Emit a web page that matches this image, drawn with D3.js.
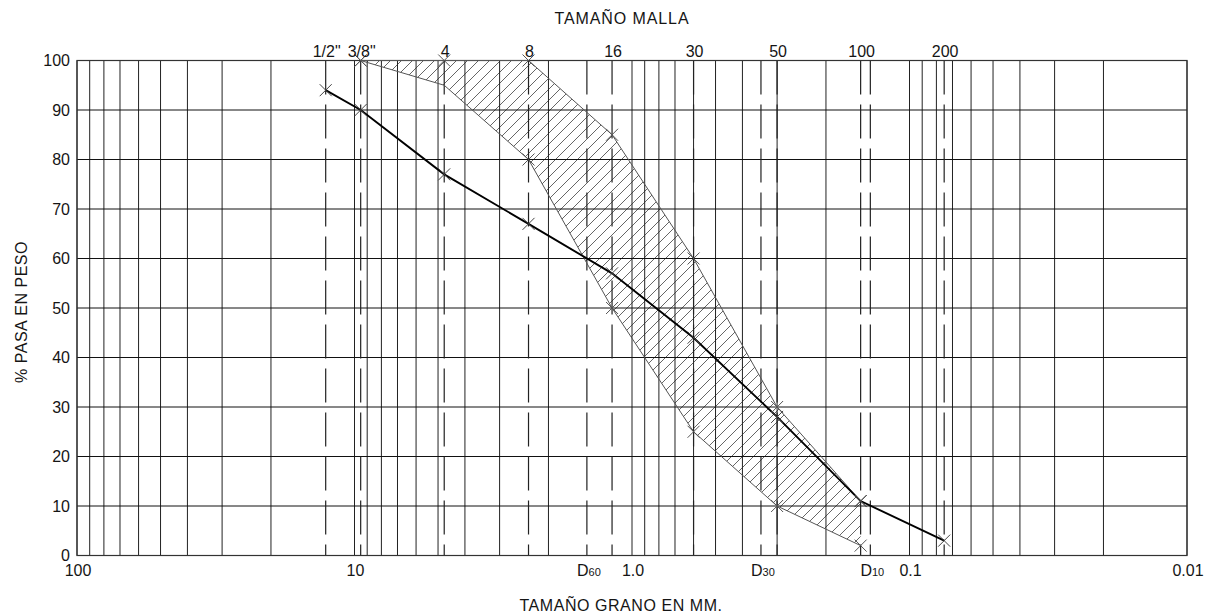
<!DOCTYPE html>
<html>
<head>
<meta charset="utf-8">
<script src="https://cdn.jsdelivr.net/npm/d3@7/dist/d3.min.js"></script>
<style>
  html, body { margin: 0; padding: 0; background: #fff; }
  svg { display: block; font-family: "Liberation Sans", Arial, sans-serif; }
</style>
</head>
<body>
<svg id="chart" width="1221" height="616"></svg>
<script>
// ---- data ----
const sieveLabels = ["1/2\"", "3/8\"", "4", "8", "16", "30", "50", "100", "200"];
const sieveSizes  = [12.7, 9.5, 4.75, 2.36, 1.18, 0.6, 0.3, 0.15, 0.075];
const passing     = [94, 90, 77, 67, 57, 44, 28, 11, 3];

const bandSizes = [9.5, 4.75, 2.36, 1.18, 0.6, 0.3, 0.15];
const bandUpper = [100, 100, 100, 85, 60, 30, 11];
const bandLower = [100, 95, 80, 50, 25, 10, 2];

const dLabels = ["60", "30", "10"];
const dSizes  = [1.454, 0.343, 0.1384];

const xTickLabels = ["100", "10", "1.0", "0.1", "0.01"];
const xTickValues = [100, 10, 1, 0.1, 0.01];
const yTickValues = [0, 10, 20, 30, 40, 50, 60, 70, 80, 90, 100];

(function () {
// ---- layout ----
const svg = d3.select("#chart");
const pL = 77, pR = 1187, pT = 60.5, pB = 555.5;
const x = d3.scaleLog().domain([100, 0.01]).range([pL, pR]);
const y = d3.scaleLinear().domain([0, 100]).range([pB, pT]);

// hatch pattern
const defs = svg.append("defs");
const pat = defs.append("pattern")
  .attr("id", "hatch").attr("patternUnits", "userSpaceOnUse")
  .attr("width", 11).attr("height", 11);
pat.append("path")
  .attr("d", "M0,11 L11,0 M-2,2 L2,-2 M9,13 L13,9")
  .attr("stroke", "#555").attr("stroke-width", 0.9);

// band polygon
const bandPts = bandSizes.map((s, i) => [x(s), y(bandUpper[i])])
  .concat(bandSizes.map((s, i) => [x(s), y(bandLower[i])]).reverse());
svg.append("path")
  .attr("d", "M" + bandPts.map(p => p.join(",")).join("L") + "Z")
  .attr("fill", "url(#hatch)");

// grid
const g = svg.append("g");
x.ticks().forEach(v => {
  g.append("line").attr("x1", x(v)).attr("x2", x(v))
    .attr("y1", pT).attr("y2", pB)
    .attr("stroke", "#222").attr("stroke-width", 1);
});
yTickValues.forEach(v => {
  g.append("line").attr("x1", pL).attr("x2", pR)
    .attr("y1", y(v)).attr("y2", y(v))
    .attr("stroke", "#111").attr("stroke-width", 1);
});

// dashed sieve & D lines
sieveSizes.concat(dSizes).forEach(s => {
  g.append("line").attr("x1", x(s)).attr("x2", x(s))
    .attr("y1", pT).attr("y2", pB)
    .attr("stroke", "#222").attr("stroke-width", 1.2)
    .attr("stroke-dasharray", "34,10");
});

// border
svg.append("rect").attr("x", pL).attr("y", pT)
  .attr("width", pR - pL).attr("height", pB - pT)
  .attr("fill", "none").attr("stroke", "#333").attr("stroke-width", 1.2);

// band outline
const lineGen = d3.line().x(d => x(d[0])).y(d => y(d[1]));
const upperData = bandSizes.map((s, i) => [s, bandUpper[i]]);
const lowerData = bandSizes.map((s, i) => [s, bandLower[i]]);
[upperData, lowerData].forEach(data => {
  svg.append("path").attr("d", lineGen(data))
    .attr("fill", "none").attr("stroke", "#555").attr("stroke-width", 1);
});

// main curve
const mainData = sieveSizes.map((s, i) => [s, passing[i]]);
svg.append("path").attr("d", lineGen(mainData))
  .attr("fill", "none").attr("stroke", "#000").attr("stroke-width", 1.9);

// markers
function marker(px, py, col) {
  const r = 6;
  svg.append("path")
    .attr("d", `M${px - r},${py - r}L${px + r},${py + r}M${px - r},${py + r}L${px + r},${py - r}`)
    .attr("stroke", col).attr("stroke-width", 1).attr("fill", "none");
}
upperData.forEach(d => marker(x(d[0]), y(d[1]), "#555"));
lowerData.forEach((d, i) => { if (i !== 1) marker(x(d[0]), y(d[1]), "#555"); });
mainData.forEach(d => marker(x(d[0]), y(d[1]), "#444"));

// axes text
const fs = 16;
const txt = (xx, yy, s, anchor) => svg.append("text").attr("x", xx).attr("y", yy)
  .attr("text-anchor", anchor || "middle").attr("font-size", fs).attr("fill", "#151515").text(s);

txt(622, 24, "TAMAÑO MALLA").attr("letter-spacing", 0.9);

sieveLabels.forEach((t, i) => txt(x(sieveSizes[i]) + 1, 57, t));

yTickValues.forEach(v => txt(70, y(v), v, "end").attr("dominant-baseline", "central"));

xTickValues.forEach((v, i) => txt(x(v) + 1, 576, xTickLabels[i]));

dSizes.forEach((s, i) => {
  const t = txt(x(s) + 2, 576, "");
  t.append("tspan").text("D");
  t.append("tspan").attr("font-size", 11).text(dLabels[i]);
});

txt(621, 611, "TAMAÑO GRANO EN MM.").attr("letter-spacing", 0.55);

svg.append("text")
  .attr("transform", "translate(27,312) rotate(-90)")
  .attr("text-anchor", "middle").attr("font-size", fs).attr("fill", "#151515")
  .attr("letter-spacing", 0.5)
  .text("% PASA EN PESO");
})();
</script>
</body>
</html>
